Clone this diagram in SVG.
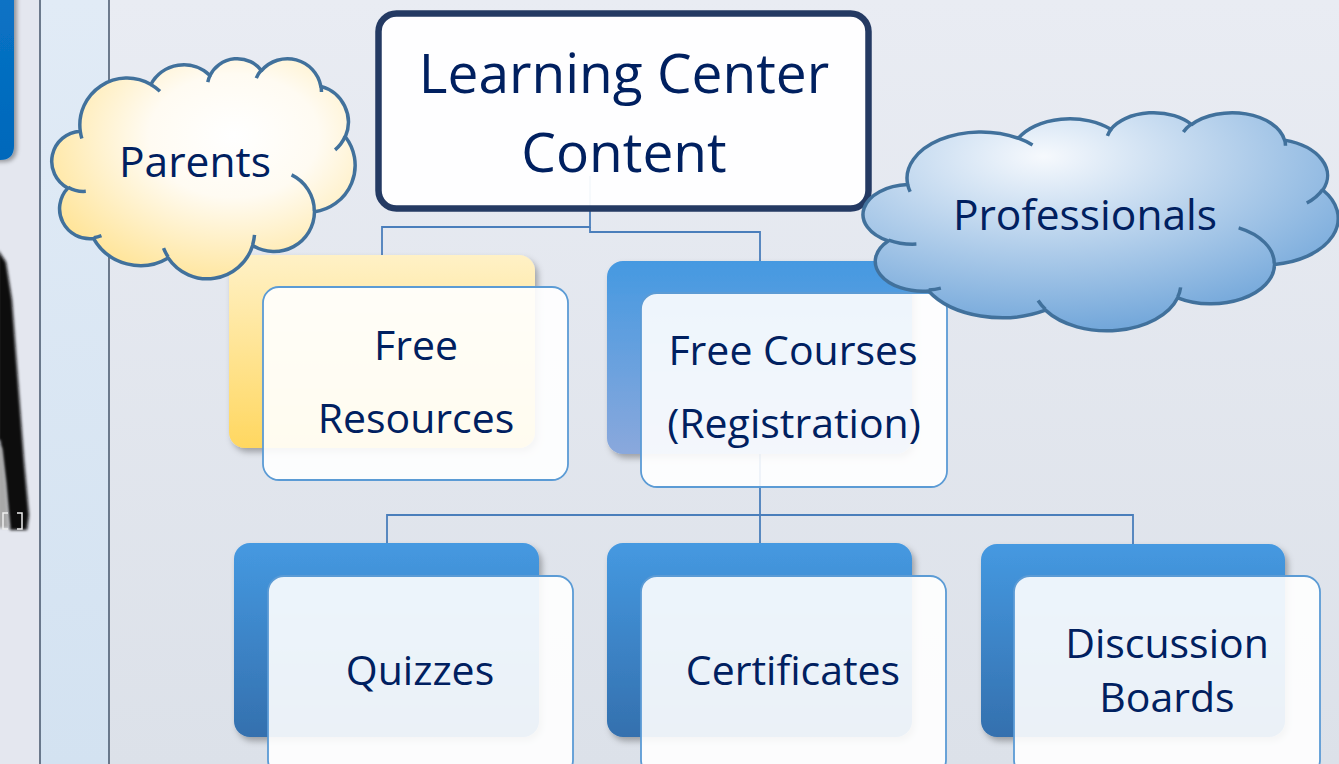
<svg xmlns="http://www.w3.org/2000/svg" width="1339" height="764" viewBox="0 0 1339 764">
<defs>
<linearGradient id="bg" x1="0" y1="0" x2="0" y2="1"><stop offset="0" stop-color="#e9ecf3"/><stop offset="1" stop-color="#dce1e9"/></linearGradient>
<linearGradient id="panel" x1="0" y1="0" x2="0" y2="1"><stop offset="0" stop-color="#e1ebf6"/><stop offset="1" stop-color="#d3e2f1"/></linearGradient>
<linearGradient id="blueTab" x1="0" y1="0" x2="0" y2="1"><stop offset="0" stop-color="#0a74c6"/><stop offset="1" stop-color="#0068bb"/></linearGradient>
<linearGradient id="gYellow" x1="0" y1="0" x2="0" y2="1"><stop offset="0" stop-color="#fff1c6"/><stop offset="1" stop-color="#ffd760"/></linearGradient>
<linearGradient id="gBlue" x1="0" y1="0" x2="0" y2="1"><stop offset="0" stop-color="#4599e1"/><stop offset="1" stop-color="#3470ae"/></linearGradient>
<linearGradient id="gBlue2" x1="0" y1="0" x2="0" y2="1"><stop offset="0" stop-color="#4599e1"/><stop offset="1" stop-color="#8aa8dc"/></linearGradient>
<radialGradient id="gPar" cx="0.6" cy="0.35" r="0.7"><stop offset="0" stop-color="#ffffff"/><stop offset="0.4" stop-color="#fffbf2"/><stop offset="1" stop-color="#ffe497"/></radialGradient>
<radialGradient id="gPro" cx="0.38" cy="0.2" r="0.8"><stop offset="0" stop-color="#f6f9fd"/><stop offset="1" stop-color="#73a7da"/></radialGradient>
<filter id="sh" x="-10%" y="-10%" width="130%" height="130%"><feDropShadow dx="3" dy="4" stdDeviation="3" flood-color="#000" flood-opacity="0.3"/></filter>
<filter id="tabsh" x="-50%" y="-10%" width="200%" height="130%"><feDropShadow dx="3" dy="2" stdDeviation="2" flood-color="#000" flood-opacity="0.35"/></filter>
<filter id="blur" x="-80%" y="-20%" width="260%" height="140%"><feGaussianBlur stdDeviation="1.8"/></filter>
</defs>
<style>
.t{font-family:"Open Sans","Liberation Sans",sans-serif;fill:#002060;text-anchor:middle}
.big{font-size:55px}
.lbl{font-size:41px}
.cl{font-size:42.5px}
.back{filter:url(#sh)}
.front{fill:#ffffff;fill-opacity:0.9;stroke:#5b9bd5;stroke-width:1.8}
.conn{fill:none;stroke:#4a7ebb;stroke-width:1.8}
.cloud{stroke:#41719c;stroke-width:3.5;vector-effect:non-scaling-stroke;stroke-linejoin:round}
.inner{fill:none;stroke:#41719c;stroke-width:3.5;vector-effect:non-scaling-stroke}
</style>

<!-- background -->
<rect x="0" y="0" width="1339" height="764" fill="url(#bg)"/>
<rect x="0" y="0" width="40" height="764" fill="#e4e7ef"/>
<rect x="40" y="0" width="69" height="764" fill="url(#panel)"/>
<line x1="40" y1="0" x2="40" y2="764" stroke="#44546a" stroke-width="1.5"/>
<line x1="109" y1="0" x2="109" y2="764" stroke="#44546a" stroke-width="1.5"/>
<path d="M-20,-20 H14 V146 Q14,160 0,160 H-20 Z" fill="url(#blueTab)" filter="url(#tabsh)"/>
<path d="M-2,250 L6,262 L12,300 L18,380 L24,460 L29,515 L27,530 L10,530 L5,480 L0,440 L-2,440 Z" fill="#0d0d0d" filter="url(#blur)"/>
<path d="M-2,445 L2,448 L6,485 L9,528 L-2,528 Z" fill="#a8a8a8" filter="url(#blur)"/>
<path d="M8,513 h-5 v16 h5 M17,513 h5 v16 h-5" fill="none" stroke="#eeeeee" stroke-width="1.5"/>

<!-- connectors -->
<g id="connectors">
<path class="conn" d="M590,176 V227 H382 V256"/>
<path class="conn" d="M590,227 V232 H760 V262"/>
<path class="conn" d="M760,454 V515"/>
<path class="conn" d="M387,543 V515 H1133 V544"/>
<path class="conn" d="M760,515 V543"/>
</g>

<!-- nodes -->
<g id="free-resources">
<rect class="back" x="229" y="255" width="306" height="193" rx="16" fill="url(#gYellow)"/>
<rect class="front" x="263" y="287" width="305" height="193" rx="16"/>
<text class="t lbl" x="416" y="360">Free</text>
<text class="t lbl" x="416" y="433">Resources</text>
</g>

<g id="free-courses">
<rect class="back" x="607" y="261" width="305" height="193" rx="16" fill="url(#gBlue2)"/>
<rect class="front" x="641" y="293" width="306" height="194" rx="16"/>
<text class="t lbl" x="793" y="365">Free Courses</text>
<text class="t lbl" x="794" y="438">(Registration)</text>
</g>

<g id="quizzes">
<rect class="back" x="234" y="543" width="305" height="194" rx="16" fill="url(#gBlue)"/>
<rect class="front" x="268" y="576" width="305" height="200" rx="16"/>
<text class="t lbl" x="420" y="685">Quizzes</text>
</g>

<g id="certificates">
<rect class="back" x="607" y="543" width="305" height="194" rx="16" fill="url(#gBlue)"/>
<rect class="front" x="641" y="576" width="305" height="200" rx="16"/>
<text class="t lbl" x="793" y="685">Certificates</text>
</g>

<g id="discussion-boards">
<rect class="back" x="981" y="544" width="304" height="193" rx="16" fill="url(#gBlue)"/>
<rect class="front" x="1014" y="576" width="306" height="200" rx="16"/>
<text class="t lbl" x="1167" y="658">Discussion</text>
<text class="t lbl" x="1167" y="712">Boards</text>
</g>

<g id="learning-center-content">
<rect x="378.5" y="13.5" width="490" height="195" rx="18" fill="#ffffff" fill-opacity="0.95" stroke="#243a63" stroke-width="6.5"/>
<text class="t big" x="624" y="93">Learning Center</text>
<text class="t big" x="624" y="172">Content</text>
</g>

<g id="parents">
<g transform="translate(53,58) scale(0.0069907,0.0050926)">
<path class="cloud" fill="url(#gPar)" d="M3900,14370 A6753,9190 0 0 1 14004,5202 A5333,7267 0 0 1 22454,3431 A4365,5945 0 0 1 29832,2480 A4857,6595 0 0 1 38317,5575 A5333,7273 0 0 1 41817,15458 A6775,9220 0 0 1 37404,30204 A5785,7867 0 0 1 28555,36814 A6752,9215 0 0 1 16479,39264 A7720,10543 0 0 1 5808,35473 A4360,5918 0 0 1 2117,25550 A4345,5945 0 0 1 3900,14370 Z"/>
<path class="inner" d="M4693,26177 A4345,5945 0 0 1 2158,25379 M6928,34899 A4360,5918 0 0 1 5820,35280 M16478,39090 A6752,9215 0 0 1 15811,37352 M28827,34751 A6752,9215 0 0 1 28561,36659 M34129,22954 A5785,7867 0 0 1 37377,30087 M41798,15354 A5333,7273 0 0 1 40349,18031 M38324,5426 A4857,6595 0 0 1 38401,6690 M29078,3952 A4857,6595 0 0 1 29819,2341 M22141,4720 A4365,5945 0 0 1 22500,3331 M14000,5192 A6753,9190 0 0 1 15302,6542 M4127,15789 A6753,9190 0 0 1 3900,14370"/>
</g>
<text class="t cl" x="195" y="177">Parents</text>
</g>

<g id="professionals">
<g transform="translate(865,112) scale(0.010949,0.0050463)">
<path class="cloud" fill="url(#gPro)" d="M3900,14370 A6753,9190 0 0 1 14004,5202 A5333,7267 0 0 1 22454,3431 A4365,5945 0 0 1 29832,2480 A4857,6595 0 0 1 38317,5575 A5333,7273 0 0 1 41817,15458 A6775,9220 0 0 1 37404,30204 A5785,7867 0 0 1 28555,36814 A6752,9215 0 0 1 16479,39264 A7720,10543 0 0 1 5808,35473 A4360,5918 0 0 1 2117,25550 A4345,5945 0 0 1 3900,14370 Z"/>
<path class="inner" d="M4693,26177 A4345,5945 0 0 1 2158,25379 M6928,34899 A4360,5918 0 0 1 5820,35280 M16478,39090 A6752,9215 0 0 1 15811,37352 M28827,34751 A6752,9215 0 0 1 28561,36659 M34129,22954 A5785,7867 0 0 1 37377,30087 M41798,15354 A5333,7273 0 0 1 40349,18031 M38324,5426 A4857,6595 0 0 1 38401,6690 M29078,3952 A4857,6595 0 0 1 29819,2341 M22141,4720 A4365,5945 0 0 1 22500,3331 M14000,5192 A6753,9190 0 0 1 15302,6542 M4127,15789 A6753,9190 0 0 1 3900,14370"/>
</g>
<text class="t cl" x="1085" y="230">Professionals</text>
</g>
</svg>
